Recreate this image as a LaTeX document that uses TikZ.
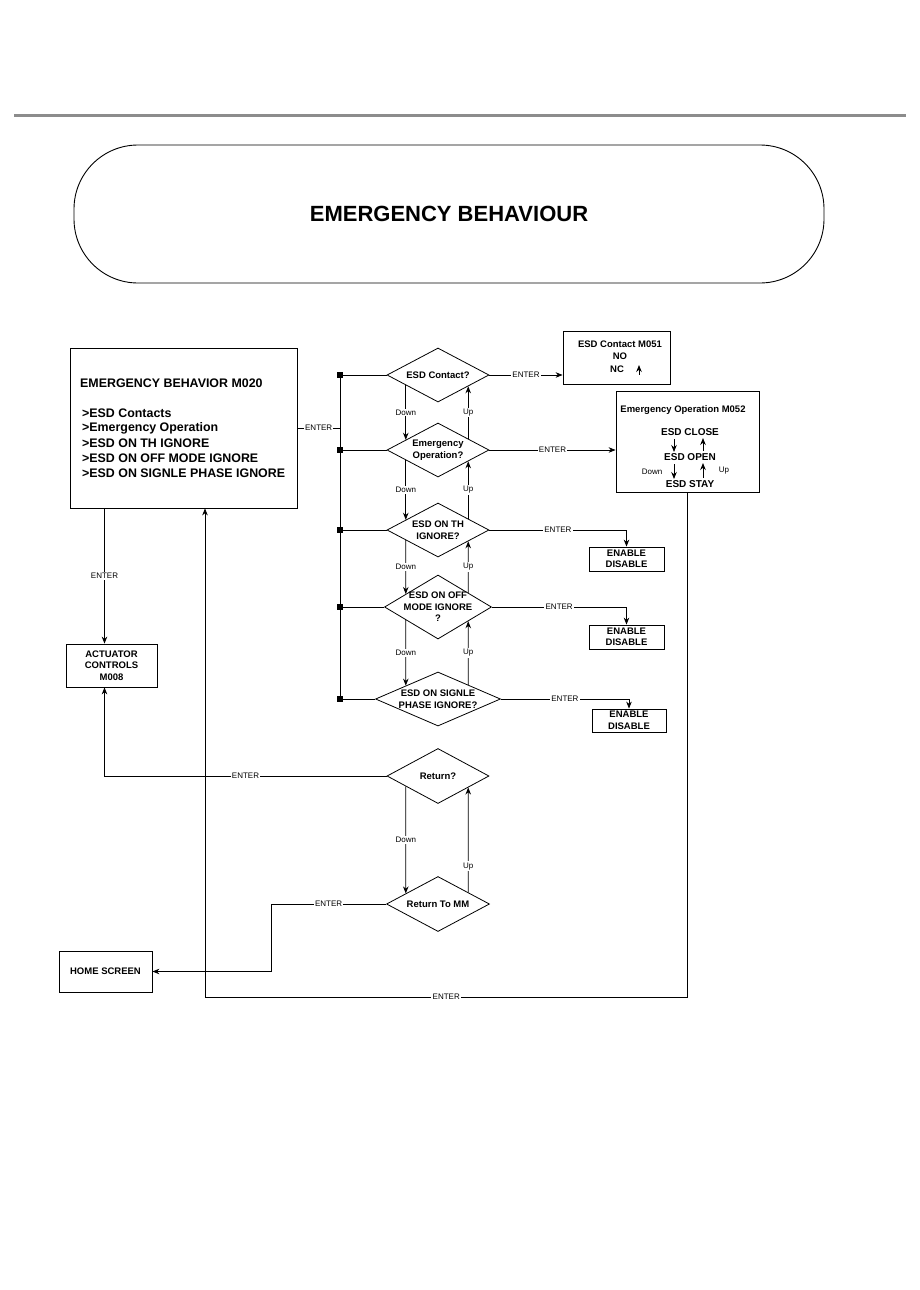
\documentclass[tikz,border=0pt]{standalone}
\usepackage{fontspec}
\setmainfont{Liberation Sans}
\usetikzlibrary{arrows.meta,shapes.geometric,calc}
\begin{document}
\begin{tikzpicture}[x=1pt,y=-1pt,
  bx/.style={draw, line width=0.8pt, inner sep=0pt},
  dia/.style={draw, diamond, line width=0.8pt, inner sep=0pt},
  dt/.style={font=\bfseries\fontsize{9.5}{11.5}\selectfont, align=center, inner sep=0pt},
  bt/.style={font=\bfseries\fontsize{12.4}{12.4}\selectfont, inner sep=0pt, anchor=west},
  lab/.style={font=\fontsize{8}{8}\selectfont, fill=white, inner sep=1.2pt},
  sl/.style={font=\fontsize{8}{8}\selectfont, inner sep=0pt},
  ln/.style={line width=0.8pt},
  arr/.style={line width=0.8pt, -{Stealth[length=7pt,width=5.5pt]}},
  sq/.style={fill=black, minimum size=6pt, inner sep=0pt},
]
\useasboundingbox[fill=white] (0,0) rectangle (920,1290);
% header rule
\draw[line width=3pt, black!45] (14,115) -- (906,115);
% title capsule
\node[draw, line width=0.9pt, rounded corners=64pt, minimum width=750pt, minimum height=138pt] (tbox) at (449,214) {};
\node[font=\bfseries\fontsize{22}{22}\selectfont] (title) at (tbox.center) {EMERGENCY BEHAVIOUR};

% main menu box
\node[bx, minimum width=227pt, minimum height=160pt] (m020) at (183.5,428) {};
\node[bt] (t0) at (80,383) {EMERGENCY BEHAVIOR M020};
\node[bt] (t1) at (82,413) {>ESD Contacts};
\node[bt] (t2) at (82,428) {>Emergency Operation};
\node[bt] (t3) at (82,443) {>ESD ON TH IGNORE};
\node[bt] (t4) at (82,458) {>ESD ON OFF MODE IGNORE};
\node[bt] (t5) at (82,473) {>ESD ON SIGNLE PHASE IGNORE};

% diamonds
\node[dia, minimum width=102pt, minimum height=54pt] (d1) at (438,375) {};
\node[dt] at (d1.center) {ESD Contact?};
\node[dia, minimum width=102pt, minimum height=54pt] (d2) at (438,450) {};
\node[dt] at (d2.center) {Emergency\\Operation?};
\node[dia, minimum width=102pt, minimum height=54pt] (d3) at (438,530) {};
\node[dt] at (d3.center) {ESD ON TH\\IGNORE?};
\node[dia, minimum width=107pt, minimum height=64pt] (d4) at (438,607) {};
\node[dt] at (d4.center) {ESD ON OFF\\MODE IGNORE\\?};
\node[dia, minimum width=125pt, minimum height=54pt] (d5) at (438,699) {};
\node[dt] at (d5.center) {ESD ON SIGNLE\\PHASE IGNORE?};
\node[dia, minimum width=102pt, minimum height=55pt] (d6) at (438,776) {};
\node[dt] at (d6.center) {Return?};
\node[dia, minimum width=103pt, minimum height=55pt] (d7) at (438,904) {};
\node[dt] at (d7.center) {Return To MM};

% bus squares
\node[sq] (s1) at (340,375) {};
\node[sq] (s2) at (340,450) {};
\node[sq] (s3) at (340,530) {};
\node[sq] (s4) at (340,607) {};
\node[sq] (s5) at (340,699) {};
\draw[ln] (s1.center) -- (s5.center);
\draw[ln] (s1.center) -- (d1.west);
\draw[ln] (s2.center) -- (d2.west);
\draw[ln] (s3.center) -- (d3.west);
\draw[ln] (s4.center) -- (d4.west);
\draw[ln] (s5.center) -- (d5.west);
\draw[ln] (m020.east) -- node[lab]{ENTER} (m020.east -| s1);

% M051
\node[bx, minimum width=107pt, minimum height=53pt] (m051) at (616.5,357.5) {};
\node[dt] (m051t) at (620,344) {ESD Contact M051};
\node[dt] (no) at (620,356.5) {NO};
\node[dt] (nc) at (617,369) {NC};
\draw[arr] (639,374.5) -- (639,365);

% M052
\node[bx, minimum width=143pt, minimum height=101pt] (m052) at (687.5,441.5) {};
\node[dt] (m052t) at (683,410) {Emergency Operation M052};
\node[dt, font=\bfseries\fontsize{10}{10}\selectfont] (close) at (690,432) {ESD CLOSE};
\node[dt, font=\bfseries\fontsize{10}{10}\selectfont] (open) at (690,457) {ESD OPEN};
\node[dt, font=\bfseries\fontsize{10}{10}\selectfont] (stay) at (690,484) {ESD STAY};
\draw[arr] ($(close.center)+(-16,7)$) -- ($(open.center)+(-16,-5)$);
\draw[arr] ($(open.center)+(-16,7)$) -- ($(stay.center)+(-16,-5)$);
\draw[arr] ($(open.center)+(13,-6)$) -- ($(close.center)+(13,6)$);
\draw[arr] ($(stay.center)+(13,-6)$) -- ($(open.center)+(13,6)$);
\node[sl] at (652,472) {Down};
\node[sl] at (724,471) {Up};

% ENABLE boxes
\node[bx, dt, minimum width=75pt, minimum height=24pt] (en1) at (626.5,559) {ENABLE\\DISABLE};
\node[bx, dt, minimum width=75pt, minimum height=24pt] (en2) at (626.5,637) {ENABLE\\DISABLE};
\node[bx, dt, minimum width=74pt, minimum height=23pt] (en3) at (629,720.5) {ENABLE\\DISABLE};

% ACTUATOR & HOME
\node[bx, dt, minimum width=91pt, minimum height=43pt] (act) at (111.5,665.5) {ACTUATOR\\CONTROLS\\M008};
\node[bx, dt, minimum width=93pt, minimum height=41pt] (home) at (105.5,971.5) {HOME SCREEN};
\coordinate (actin) at ([xshift=-7pt]act.north);
\coordinate (actout) at ([xshift=-7pt]act.south);

% ENTER connectors
\draw[arr] (d1.east) -- node[lab]{ENTER} (d1.east -| m051.west);
\draw[arr] (d2.east) -- node[lab]{ENTER} (d2.east -| m052.west);
\draw[arr] (d3.east) -| node[lab, pos=0.25]{ENTER} (en1.north);
\draw[arr] (d4.east) -| node[lab, pos=0.25]{ENTER} (en2.north);
\draw[arr] (d5.east) -| node[lab, pos=0.25]{ENTER} (en3.north);
\draw[arr] (actin |- m020.south) -- node[lab]{ENTER} (actin);
\draw[arr] (d6.west) -| node[lab, pos=0.25]{ENTER} (actout);
\draw[arr] (d7.west) -- node[lab]{ENTER} ++(-115,0) |- (home.east);
\coordinate (lp) at (205,997);
\draw[arr] (m052.south) |- node[lab, pos=0.75]{ENTER} (lp) -- (lp |- m020.south);

% Down / Up between diamonds
\draw[arr] ($(d1.west)!0.373!(d1.south)$) -- node[lab]{Down} ($(d2.west)!0.373!(d2.north)$);
\draw[arr] ($(d2.east)!0.412!(d2.north)$) -- node[lab]{Up} ($(d1.east)!0.412!(d1.south)$);
\draw[arr] ($(d2.west)!0.373!(d2.south)$) -- node[lab]{Down} ($(d3.west)!0.373!(d3.north)$);
\draw[arr] ($(d3.east)!0.412!(d3.north)$) -- node[lab]{Up} ($(d2.east)!0.412!(d2.south)$);
\draw[arr] ($(d3.west)!0.373!(d3.south)$) -- node[lab]{Down} ($(d4.west)!0.402!(d4.north)$);
\draw[arr] ($(d4.east)!0.439!(d4.north)$) -- node[lab]{Up} ($(d3.east)!0.412!(d3.south)$);
\draw[arr] ($(d4.west)!0.402!(d4.south)$) -- node[lab]{Down} ($(d5.west)!0.488!(d5.north)$);
\draw[arr] ($(d5.east)!0.52!(d5.north)$) -- node[lab]{Up} ($(d4.east)!0.439!(d4.south)$);
\draw[arr] ($(d6.west)!0.373!(d6.south)$) -- node[lab]{Down} ($(d7.west)!0.379!(d7.north)$);
\draw[arr] ($(d7.east)!0.417!(d7.north)$) -- node[lab, pos=0.25]{Up} ($(d6.east)!0.412!(d6.south)$);
\end{tikzpicture}
\end{document}
